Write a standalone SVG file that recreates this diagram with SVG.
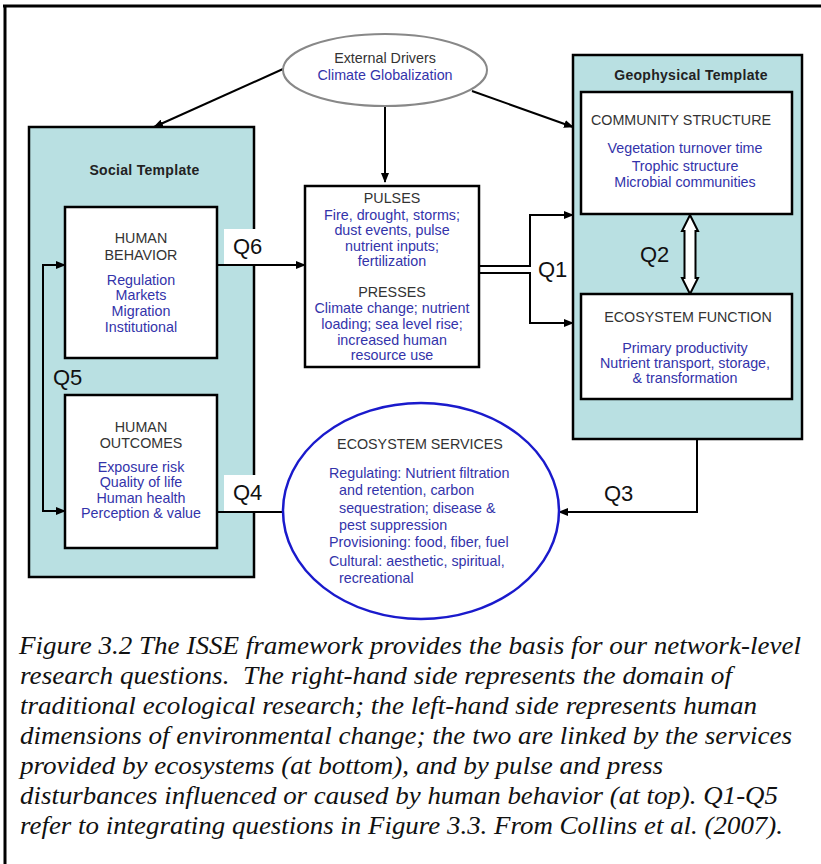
<svg xmlns="http://www.w3.org/2000/svg" width="821" height="864" viewBox="0 0 821 864">
<defs>
<marker id="ah" markerWidth="10" markerHeight="8" refX="9" refY="4" orient="auto" markerUnits="userSpaceOnUse">
<path d="M0,0 L10,4 L0,8 Z" fill="#000"/>
</marker>
<style>
.t{font-family:"Liberation Sans",Arial,sans-serif;font-size:14.3px;fill:#333;text-anchor:middle}
.b{font-family:"Liberation Sans",Arial,sans-serif;font-size:14.3px;fill:#3333aa;text-anchor:middle}
.bl{font-family:"Liberation Sans",Arial,sans-serif;font-size:14.3px;fill:#3333aa}
.h{font-family:"Liberation Sans",Arial,sans-serif;font-size:14px;font-weight:bold;fill:#222;text-anchor:middle;letter-spacing:0.3px}
.q{font-family:"Liberation Sans",Arial,sans-serif;font-size:22px;fill:#111}
.cap{font-family:"Liberation Serif","Times New Roman",serif;font-style:italic;font-size:25px;fill:#111}
.tpl{fill:#b9e0e2;stroke:#000;stroke-width:2.5}
.box{fill:#fff;stroke:#000;stroke-width:2.5}
.ln{fill:none;stroke:#000;stroke-width:2}
</style>
</defs>
<rect width="821" height="864" fill="#fff"/>
<g id="frame">
<line x1="3" y1="6" x2="821" y2="6" stroke="#000" stroke-width="3"/>
<line x1="5" y1="5" x2="5" y2="864" stroke="#000" stroke-width="3"/>
</g>
<g id="social-template">
<rect class="tpl" x="29" y="127" width="225" height="450"/>
<text class="h" x="144.5" y="175">Social Template</text>
</g>
<g id="geophysical-template">
<rect class="tpl" x="573" y="55" width="229" height="384"/>
<text class="h" x="691" y="80">Geophysical Template</text>
</g>
<g id="q-label-bg">
<rect x="224" y="229" width="32" height="36" fill="#fff"/>
<rect x="224" y="475" width="32" height="37" fill="#fff"/>
</g>
<g id="connectors">
<line class="ln" x1="283" y1="69" x2="154" y2="127" marker-end="url(#ah)"/>
<line class="ln" x1="472" y1="91" x2="573" y2="127" marker-end="url(#ah)"/>
<line class="ln" x1="385" y1="106" x2="385" y2="182" marker-end="url(#ah)"/>
<line class="ln" x1="217" y1="265" x2="305" y2="265" marker-end="url(#ah)"/>
<line class="ln" x1="43" y1="264" x2="43" y2="512"/>
<line class="ln" x1="42" y1="265" x2="65" y2="265" marker-end="url(#ah)"/>
<line class="ln" x1="42" y1="511" x2="65" y2="511" marker-end="url(#ah)"/>
<line class="ln" x1="217" y1="512" x2="283" y2="512"/>
<path class="ln" d="M479,266 H530 V215 H573" marker-end="url(#ah)"/>
<path class="ln" d="M479,273 H530 V323 H573" marker-end="url(#ah)"/>
<path class="ln" d="M697,439 V512 H559" marker-end="url(#ah)"/>
<polygon points="690,215 698,231 695.5,231 695.5,278 698,278 690,294 682,278 684.5,278 684.5,231 682,231" fill="#fff" stroke="#000" stroke-width="2"/>
</g>
<g id="q-labels">
<text class="q" x="233" y="254">Q6</text>
<text class="q" x="53" y="385">Q5</text>
<text class="q" x="233" y="500">Q4</text>
<text class="q" x="538" y="277">Q1</text>
<text class="q" x="640" y="262">Q2</text>
<text class="q" x="604" y="501">Q3</text>
</g>
<g id="external-drivers">
<ellipse cx="385" cy="70" rx="102" ry="36" fill="#fff" stroke="#888" stroke-width="2"/>
<text class="t" x="385" y="63">External Drivers</text>
<text class="b" x="385" y="80">Climate Globalization</text>
</g>
<g id="pulses-presses">
<rect class="box" x="305" y="186" width="174" height="181"/>
<text class="t" x="392" y="203">PULSES</text>
<text class="b" x="392" y="220">Fire, drought, storms;</text>
<text class="b" x="392" y="235">dust events, pulse</text>
<text class="b" x="392" y="251">nutrient inputs;</text>
<text class="b" x="392" y="266">fertilization</text>
<text class="t" x="392" y="297">PRESSES</text>
<text class="b" x="392" y="313">Climate change; nutrient</text>
<text class="b" x="392" y="329">loading; sea level rise;</text>
<text class="b" x="392" y="345">increased human</text>
<text class="b" x="392" y="360">resource use</text>
</g>
<g id="human-behavior">
<rect class="box" x="65" y="207" width="152" height="151"/>
<text class="t" x="141" y="243">HUMAN</text>
<text class="t" x="141" y="260">BEHAVIOR</text>
<text class="b" x="141" y="285">Regulation</text>
<text class="b" x="141" y="300">Markets</text>
<text class="b" x="141" y="316">Migration</text>
<text class="b" x="141" y="332">Institutional</text>
</g>
<g id="human-outcomes">
<rect class="box" x="65" y="395" width="152" height="153"/>
<text class="t" x="141" y="432">HUMAN</text>
<text class="t" x="141" y="448">OUTCOMES</text>
<text class="b" x="141" y="472">Exposure risk</text>
<text class="b" x="141" y="487">Quality of life</text>
<text class="b" x="141" y="503">Human health</text>
<text class="b" x="141" y="518">Perception &amp; value</text>
</g>
<g id="community-structure">
<rect class="box" x="581" y="92" width="211" height="122"/>
<text class="t" x="681" y="125">COMMUNITY STRUCTURE</text>
<text class="b" x="685" y="153">Vegetation turnover time</text>
<text class="b" x="685" y="171">Trophic structure</text>
<text class="b" x="685" y="187">Microbial communities</text>
</g>
<g id="ecosystem-function">
<rect class="box" x="581" y="294" width="211" height="105"/>
<text class="t" x="688" y="322">ECOSYSTEM FUNCTION</text>
<text class="b" x="685" y="353">Primary productivity</text>
<text class="b" x="685" y="368">Nutrient transport, storage,</text>
<text class="b" x="685" y="383">&amp; transformation</text>
</g>
<g id="ecosystem-services">
<ellipse cx="421" cy="511" rx="138" ry="108" fill="#fff" stroke="#1a1acc" stroke-width="2.5"/>
<text class="t" x="420" y="449">ECOSYSTEM SERVICES</text>
<text class="bl" x="329" y="478">Regulating: Nutrient filtration</text>
<text class="bl" x="339" y="495">and retention, carbon</text>
<text class="bl" x="339" y="513">sequestration; disease &amp;</text>
<text class="bl" x="339" y="530">pest suppression</text>
<text class="bl" x="329" y="547">Provisioning: food, fiber, fuel</text>
<text class="bl" x="329" y="566">Cultural: aesthetic, spiritual,</text>
<text class="bl" x="339" y="583">recreational</text>
</g>
<g id="caption">
<text class="cap" x="19" y="654" textLength="782" lengthAdjust="spacingAndGlyphs">Figure 3.2 The ISSE framework provides the basis for our network-level</text>
<text class="cap" x="20" y="684" textLength="712" lengthAdjust="spacingAndGlyphs" xml:space="preserve">research questions.  The right-hand side represents the domain of</text>
<text class="cap" x="20" y="714" textLength="737" lengthAdjust="spacingAndGlyphs">traditional ecological research; the left-hand side represents human</text>
<text class="cap" x="20" y="744" textLength="772" lengthAdjust="spacingAndGlyphs">dimensions of environmental change; the two are linked by the services</text>
<text class="cap" x="20" y="774" textLength="643" lengthAdjust="spacingAndGlyphs">provided by ecosystems (at bottom), and by pulse and press</text>
<text class="cap" x="20" y="804" textLength="758" lengthAdjust="spacingAndGlyphs">disturbances influenced or caused by human behavior (at top). Q1-Q5</text>
<text class="cap" x="20" y="834" textLength="763" lengthAdjust="spacingAndGlyphs">refer to integrating questions in Figure 3.3. From Collins et al. (2007).</text>
</g>
</svg>
